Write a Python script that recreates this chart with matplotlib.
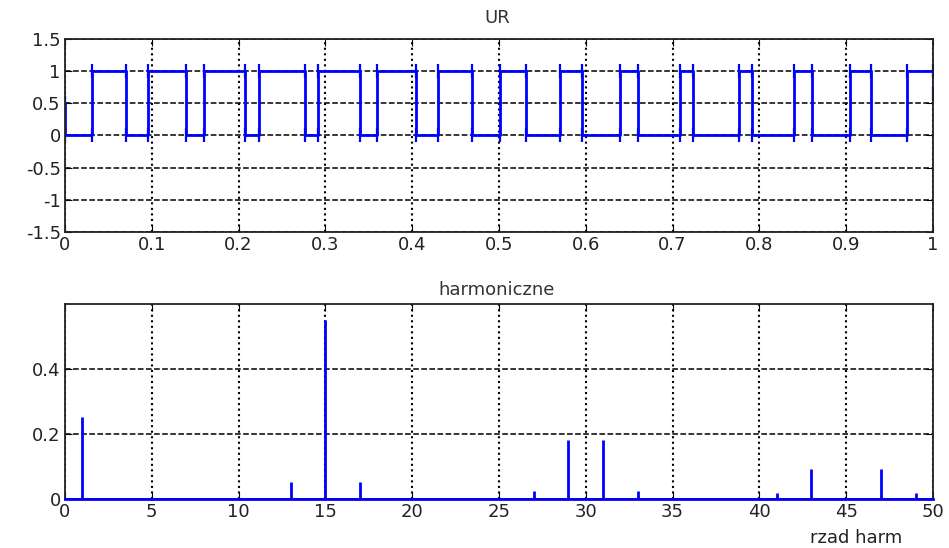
import matplotlib
matplotlib.use("Agg")
import matplotlib.pyplot as plt
import numpy as np

# switching instants of the PWM signal
rise_t = [0.031, 0.096, 0.160, 0.224, 0.292, 0.360, 0.430, 0.501,
          0.570, 0.639, 0.708, 0.776, 0.840, 0.904, 0.970]
fall_t = [0.070, 0.139, 0.207, 0.276, 0.340, 0.404, 0.469, 0.531,
          0.596, 0.660, 0.724, 0.792, 0.861, 0.929]
start_level = 0.5
end_level = 0.65

# harmonic amplitudes, orders 1..50
harm_order = list(range(1, 51))
harm_amp = [0.253, 0.003, 0.003, 0.003, 0.003, 0.003, 0.003, 0.003, 0.003, 0.003,
            0.003, 0.003, 0.051, 0.003, 0.551, 0.003, 0.051, 0.003, 0.003, 0.003,
            0.003, 0.003, 0.003, 0.003, 0.003, 0.003, 0.026, 0.003, 0.182, 0.003,
            0.182, 0.003, 0.026, 0.003, 0.003, 0.003, 0.003, 0.003, 0.003, 0.003,
            0.017, 0.003, 0.092, 0.003, 0.003, 0.003, 0.092, 0.003, 0.017, 0.003]

plt.rcParams['font.family'] = ['DejaVu Sans']
plt.rcParams['font.size'] = 13

# build step signal
edges = sorted([(t, 1) for t in rise_t] + [(t, 0) for t in fall_t])
xs = [0, 0]
ys = [start_level, 0]
lvl = 0
for t, new in edges:
    xs += [t, t]
    ys += [lvl, new]
    lvl = new
xs += [1, 1]
ys += [lvl, end_level]

fig = plt.figure(figsize=(9.49, 5.48), dpi=100)
W, H = 949, 548
ax1 = fig.add_axes([65 / W, 1 - 232 / H, 868 / W, 193 / H])
ax2 = fig.add_axes([65 / W, 1 - 499 / H, 868 / W, 195 / H])

blue = (0, 0, 1)
ax1.plot(xs, ys, color=blue, lw=2, marker='|', ms=10, mew=1.6)
ax1.set_xlim(0, 1)
ax1.set_ylim(-1.5, 1.5)
ax1.set_xticks(np.arange(0, 1.01, 0.1))
ax1.set_xticklabels(['0', '0.1', '0.2', '0.3', '0.4', '0.5', '0.6', '0.7', '0.8', '0.9', '1'])
ax1.set_yticks([-1.5, -1, -0.5, 0, 0.5, 1, 1.5])
ax1.set_yticklabels(['-1.5', '-1', '-0.5', '0', '0.5', '1', '1.5'])

ax2.vlines(harm_order, 0, harm_amp, color=blue, lw=2)
ax2.plot([0, 50], [0, 0], color=blue, lw=2, clip_on=False, zorder=5)
ax2.set_xlim(0, 50)
ax2.set_ylim(0, 0.6)
ax2.set_xticks(range(0, 51, 5))
ax2.set_yticks([0, 0.2, 0.4])
ax2.set_yticklabels(['0', '0.2', '0.4'])

for ax in (ax1, ax2):
    ax.xaxis.grid(True, linestyle=':', color='black', lw=1.5)
    ax.yaxis.grid(True, linestyle='--', color='black', lw=1.1)
    ax.set_axisbelow(True)
    ax.tick_params(direction='in', length=5, top=True, right=True,
                   colors='black', labelcolor='#222222', pad=3)
    for s in ax.spines.values():
        s.set_linewidth(1.3)
        s.set_color('#222222')

fig.text(497 / W, 1 - 18 / H, 'UR', ha='center', va='center', color='#333333')
fig.text(497 / W, 1 - 290 / H, 'harmoniczne', ha='center', va='center', color='#333333')
fig.text(856 / W, 1 - 538 / H, 'rzad harm', ha='center', va='center', color='#222222')

fig.savefig('out.png', dpi=100)
